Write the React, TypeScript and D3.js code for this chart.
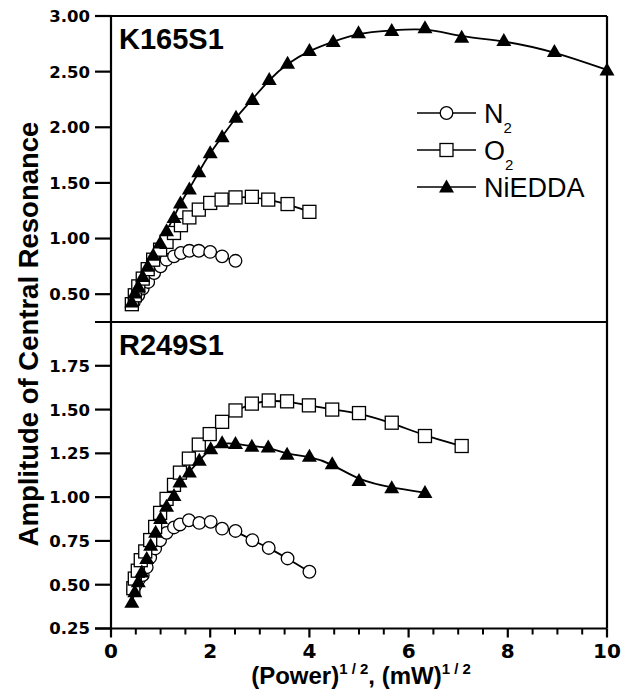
import React from 'react';
import * as d3 from 'd3';

// ---- data ----
const xMajorTicks = [0, 2, 4, 6, 8, 10];
const xMinorTicks = [0.5, 1, 1.5, 2.5, 3, 3.5, 4.5, 5, 5.5, 6.5, 7, 7.5, 8.5, 9, 9.5];
const topYTicks = [0.5, 1.0, 1.5, 2.0, 2.5, 3.0];
const bottomYTicks = [0.25, 0.5, 0.75, 1.0, 1.25, 1.5, 1.75];
const seriesNames = ['N', 'O', 'NiEDDA'];

const topN2X = [0.46, 0.55, 0.64, 0.75, 0.87, 1.0, 1.12, 1.27, 1.41, 1.58, 1.77, 2.0, 2.24, 2.51];
const topN2Y = [0.43, 0.49, 0.55, 0.61, 0.69, 0.75, 0.81, 0.84, 0.87, 0.89, 0.89, 0.88, 0.84, 0.80];

const topO2X = [0.42, 0.48, 0.55, 0.64, 0.74, 0.85, 0.99, 1.12, 1.27, 1.41, 1.58, 1.77, 2.0, 2.23, 2.51, 2.84, 3.17, 3.56, 4.0];
const topO2Y = [0.41, 0.49, 0.57, 0.64, 0.725, 0.81, 0.9, 0.97, 1.05, 1.12, 1.19, 1.26, 1.32, 1.35, 1.37, 1.375, 1.35, 1.31, 1.24];

const topNiX = [0.42, 0.48, 0.55, 0.64, 0.74, 0.85, 0.99, 1.12, 1.27, 1.4, 1.58, 1.77, 2.0, 2.24, 2.52, 2.85, 3.19, 3.56, 4.0, 4.48, 4.99, 5.66, 6.33, 7.07, 7.92, 8.94, 10.0];
const topNiY = [0.43, 0.51, 0.57, 0.66, 0.75, 0.85, 0.96, 1.07, 1.19, 1.32, 1.445, 1.6, 1.77, 1.915, 2.09, 2.25, 2.43, 2.575, 2.69, 2.77, 2.85, 2.87, 2.895, 2.81, 2.78, 2.68, 2.515];

const botN2X = [0.45, 0.5, 0.56, 0.64, 0.72, 0.79, 0.89, 0.99, 1.12, 1.27, 1.39, 1.57, 1.78, 2.01, 2.24, 2.51, 2.85, 3.18, 3.56, 4.0];
const botN2Y = [0.47, 0.5, 0.53, 0.555, 0.6, 0.656, 0.707, 0.754, 0.796, 0.827, 0.844, 0.868, 0.853, 0.859, 0.82, 0.807, 0.754, 0.71, 0.65, 0.574];

const botO2X = [0.45, 0.48, 0.54, 0.6, 0.69, 0.79, 0.89, 0.99, 1.12, 1.27, 1.39, 1.57, 1.77, 1.99, 2.24, 2.51, 2.84, 3.18, 3.55, 3.99, 4.46, 5.0, 5.66, 6.33, 7.07];
const botO2Y = [0.48, 0.535, 0.58, 0.64, 0.69, 0.755, 0.83, 0.91, 0.99, 1.07, 1.14, 1.22, 1.3, 1.36, 1.43, 1.495, 1.534, 1.552, 1.547, 1.524, 1.5, 1.48, 1.425, 1.349, 1.292];

const botNiX = [0.42, 0.48, 0.55, 0.62, 0.72, 0.8, 0.9, 1.0, 1.12, 1.27, 1.39, 1.58, 1.78, 2.01, 2.24, 2.51, 2.84, 3.17, 3.55, 4.0, 4.46, 5.0, 5.66, 6.33];
const botNiY = [0.4, 0.46, 0.517, 0.573, 0.65, 0.726, 0.8, 0.878, 0.948, 1.01, 1.087, 1.144, 1.21, 1.277, 1.31, 1.306, 1.29, 1.286, 1.245, 1.233, 1.19, 1.095, 1.053, 1.026];

// ---- layout ----
const W = 629, H = 697;
const X0 = 111, X1 = 607;
const TOP = 16, MID = 322, BOT = 628.5;
const FONT = 'Liberation Sans, Arial, sans-serif';
const TICKFONT = 'DejaVu Sans, Verdana, sans-serif';

const x = d3.scaleLinear().domain([0, 10]).range([X0, X1]);
const yTop = d3.scaleLinear().domain([0.25, 3.0]).range([MID, TOP]);
const yBot = d3.scaleLinear().domain([0.25, 2.0]).range([BOT, MID]);

const zip = (xs: number[], ys: number[]) => xs.map((v, i) => [v, ys[i]] as [number, number]);

function Marker({ kind, cx, cy }: { kind: number; cx: number; cy: number }) {
  if (kind === 0) return <circle cx={cx} cy={cy} r={6.3} fill="#fff" stroke="#000" strokeWidth={1.3} />;
  if (kind === 1) return <rect x={cx - 6.5} y={cy - 6.5} width={13} height={13} fill="#fff" stroke="#000" strokeWidth={1.3} />;
  return <path d={`M${cx},${cy - 7.5} L${cx + 7.5},${cy + 5.5} L${cx - 7.5},${cy + 5.5} Z`} fill="#000" />;
}

function Panel({ y, series }: { y: d3.ScaleLinear<number, number>; series: [number, number][][] }) {
  const line = d3.line<[number, number]>().x(d => x(d[0])).y(d => y(d[1])).curve(d3.curveBasis);
  return (
    <g>
      {series.map((s, i) => (
        <path key={'l' + i} d={line(s) || ''} fill="none" stroke="#000" strokeWidth={1.8} />
      ))}
      {series.map((s, i) => (
        <g key={'m' + i}>
          {s.map((d, j) => <Marker key={j} kind={i} cx={x(d[0])} cy={y(d[1])} />)}
        </g>
      ))}
    </g>
  );
}

export default function App() {
  const topSeries = [zip(topN2X, topN2Y), zip(topO2X, topO2Y), zip(topNiX, topNiY)];
  const botSeries = [zip(botN2X, botN2Y), zip(botO2X, botO2Y), zip(botNiX, botNiY)];
  const legendRows = [113, 150, 187];
  return (
    <svg width={W} height={H} style={{ position: 'absolute', left: 0, top: 0, background: '#fff' }}>
      <rect x={0} y={0} width={W} height={H} fill="#fff" />
      <Panel y={yTop} series={topSeries} />
      <Panel y={yBot} series={botSeries} />

      {/* frame */}
      <g stroke="#000" strokeWidth={2.2} fill="none">
        <line x1={X0} x2={X1} y1={TOP} y2={TOP} />
        <line x1={X1} x2={X1} y1={TOP} y2={BOT} />
        <line x1={X0} x2={X0} y1={TOP} y2={BOT + 1} />
        <line x1={X0 - 16} x2={X1} y1={BOT} y2={BOT} />
        <line x1={X0 - 16} x2={X1} y1={MID} y2={MID} />
      </g>

      {/* y ticks top */}
      {topYTicks.map(t => (
        <g key={'tt' + t}>
          <line x1={X0 - 16} x2={X0} y1={yTop(t)} y2={yTop(t)} stroke="#000" strokeWidth={2.2} />
          <text x={90} y={yTop(t)} dy="0.36em" textAnchor="end" fontFamily={TICKFONT} fontWeight="bold" fontSize={16.5}>
            {d3.format('.2f')(t)}
          </text>
        </g>
      ))}
      {/* y ticks bottom */}
      {bottomYTicks.map(t => (
        <g key={'bt' + t}>
          <line x1={X0 - 16} x2={X0} y1={yBot(t)} y2={yBot(t)} stroke="#000" strokeWidth={2.2} />
          <text x={90} y={yBot(t)} dy="0.36em" textAnchor="end" fontFamily={TICKFONT} fontWeight="bold" fontSize={16.5}>
            {d3.format('.2f')(t)}
          </text>
        </g>
      ))}

      {/* x ticks */}
      {xMinorTicks.map(t => (
        <line key={'xm' + t} x1={x(t)} x2={x(t)} y1={BOT} y2={BOT + 6} stroke="#000" strokeWidth={2} />
      ))}
      {xMajorTicks.map(t => (
        <g key={'xM' + t}>
          <line x1={x(t)} x2={x(t)} y1={BOT} y2={BOT + 9} stroke="#000" strokeWidth={2.2} />
          <text x={x(t)} y={BOT + 29} textAnchor="middle" fontFamily={TICKFONT} fontWeight="bold" fontSize={20}>
            {t}
          </text>
        </g>
      ))}

      {/* panel labels */}
      <text x={119} y={49} fontFamily={FONT} fontWeight="bold" fontSize={29}>K165S1</text>
      <text x={119} y={355} fontFamily={FONT} fontWeight="bold" fontSize={29}>R249S1</text>

      {/* legend */}
      {legendRows.map((ry, i) => (
        <g key={'lg' + i}>
          <line x1={417} x2={476} y1={ry} y2={ry} stroke="#000" strokeWidth={1.3} />
          <Marker kind={i} cx={446.5} cy={ry} />
          <text x={484} y={ry + 9.5} fontFamily={FONT} fontSize={27}>
            {seriesNames[i]}
            {i < 2 ? <tspan fontSize={15} dy={10}>2</tspan> : null}
          </text>
        </g>
      ))}

      {/* axis titles */}
      <text x={361} y={684} textAnchor="middle" fontFamily={FONT} fontWeight="bold" fontSize={24}>
        (Power)<tspan fontSize={15} dy={-10}>1 / 2</tspan><tspan dy={10}>, (mW)</tspan><tspan fontSize={15} dy={-10}>1 / 2</tspan>
      </text>
      <text transform="translate(38,334) rotate(-90)" textAnchor="middle" fontFamily={FONT} fontWeight="bold" fontSize={27.5}>
        Amplitude of Central Resonance
      </text>
    </svg>
  );
}
